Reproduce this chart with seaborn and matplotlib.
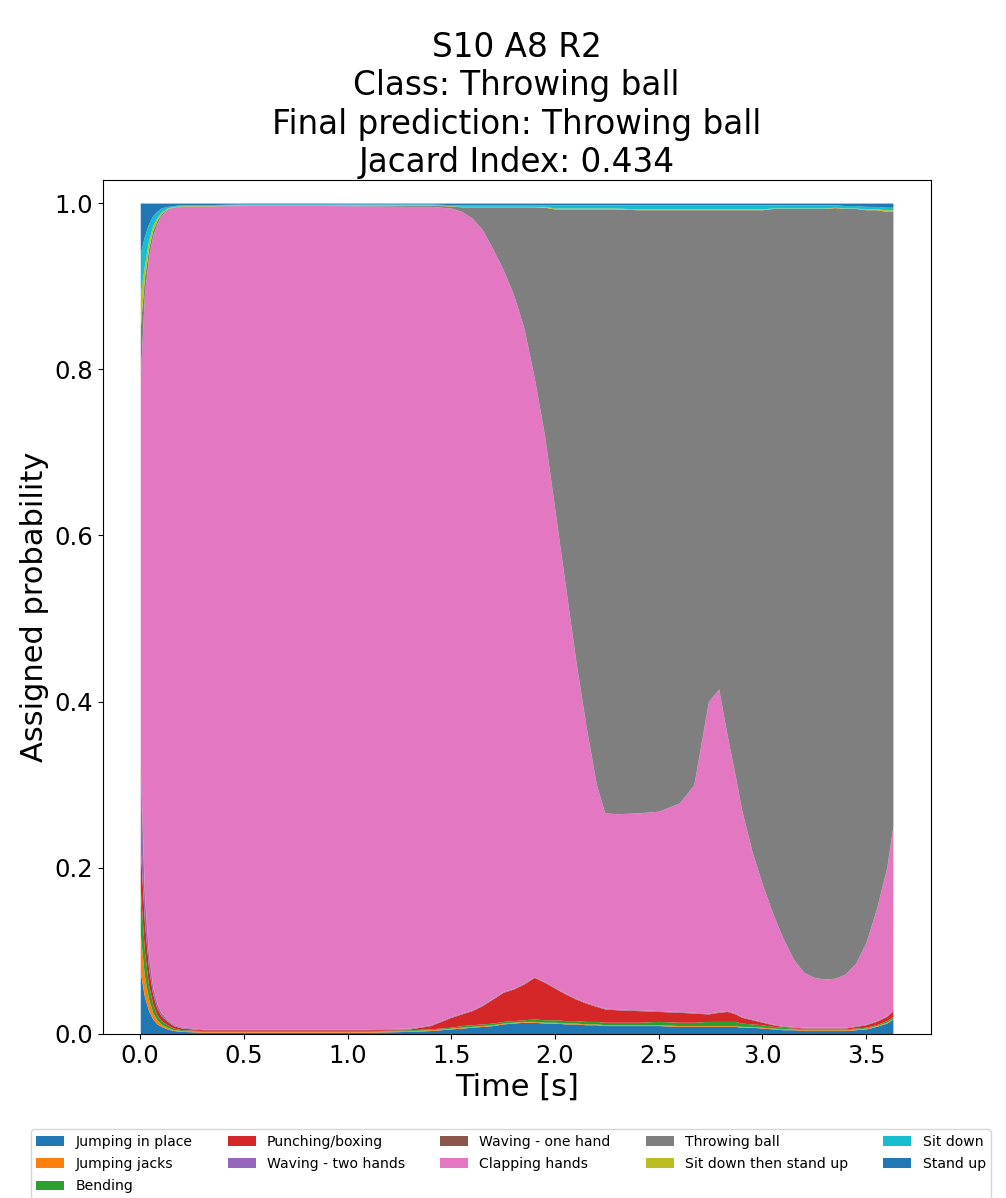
import numpy as np
import matplotlib
matplotlib.use("Agg")
import matplotlib.pyplot as plt
import seaborn as sns

sns.set_style("ticks")
plt.rcParams["font.family"] = ["DejaVu Sans"]
plt.rcParams.update({
    "text.color": "black",
    "axes.labelcolor": "black",
    "axes.edgecolor": "black",
    "xtick.color": "black",
    "ytick.color": "black",
})

# time axis [s]
time_s = [0.00, 0.02, 0.04, 0.06, 0.08, 0.10, 0.13, 0.16, 0.20, 0.30,
          0.50, 0.70, 0.90, 1.10, 1.30, 1.40, 1.50, 1.55, 1.60, 1.65,
          1.70, 1.75, 1.80, 1.85, 1.90, 1.95, 2.00, 2.05, 2.10, 2.15,
          2.20, 2.24, 2.30, 2.40, 2.50, 2.60, 2.67, 2.74, 2.79, 2.83,
          2.87, 2.90, 2.95, 3.00, 3.05, 3.10, 3.15, 3.20, 3.25, 3.30,
          3.35, 3.40, 3.45, 3.50, 3.55, 3.60, 3.63]

class_names = ["Jumping in place", "Jumping jacks", "Bending", "Punching/boxing",
               "Waving - two hands", "Waving - one hand", "Clapping hands",
               "Throwing ball", "Sit down then stand up", "Sit down", "Stand up"]

jumping_in_place = [0.075, 0.045, 0.028, 0.018, 0.012, 0.009, 0.006, 0.004, 0.003, 0.002,
                    0.002, 0.002, 0.002, 0.002, 0.003, 0.004, 0.006, 0.007, 0.008, 0.009,
                    0.010, 0.012, 0.013, 0.014, 0.014, 0.013, 0.013, 0.012, 0.012, 0.011,
                    0.011, 0.010, 0.010, 0.010, 0.010, 0.009, 0.009, 0.009, 0.009, 0.009,
                    0.009, 0.008, 0.008, 0.007, 0.006, 0.005, 0.005, 0.004, 0.004, 0.004,
                    0.004, 0.004, 0.005, 0.006, 0.009, 0.013, 0.018]
jumping_jacks = [0.045, 0.025, 0.014, 0.008, 0.005, 0.003, 0.002, 0.001, 0.001, 0.001,
                 0.001, 0.001, 0.001, 0.001, 0.001, 0.001, 0.001, 0.001, 0.001, 0.001,
                 0.001, 0.001, 0.001, 0.001, 0.001, 0.001, 0.001, 0.001, 0.001, 0.001,
                 0.001, 0.001, 0.001, 0.001, 0.001, 0.001, 0.001, 0.001, 0.001, 0.001,
                 0.001, 0.001, 0.001, 0.001, 0.001, 0.001, 0.001, 0.001, 0.001, 0.001,
                 0.001, 0.001, 0.001, 0.001, 0.001, 0.001, 0.001]
bending = [0.055, 0.030, 0.017, 0.010, 0.006, 0.004, 0.003, 0.002, 0.001, 0.001,
           0.001, 0.001, 0.001, 0.001, 0.001, 0.001, 0.001, 0.002, 0.002, 0.002,
           0.002, 0.002, 0.002, 0.002, 0.003, 0.003, 0.003, 0.003, 0.003, 0.003,
           0.003, 0.003, 0.003, 0.003, 0.004, 0.004, 0.004, 0.005, 0.005, 0.005,
           0.005, 0.004, 0.003, 0.003, 0.002, 0.002, 0.001, 0.001, 0.001, 0.001,
           0.001, 0.001, 0.001, 0.001, 0.001, 0.002, 0.002]
punching = [0.050, 0.035, 0.020, 0.012, 0.008, 0.006, 0.004, 0.003, 0.002, 0.001,
            0.001, 0.001, 0.001, 0.001, 0.001, 0.004, 0.012, 0.014, 0.017, 0.022,
            0.029, 0.035, 0.038, 0.043, 0.050, 0.045, 0.038, 0.032, 0.026, 0.022,
            0.018, 0.016, 0.015, 0.014, 0.012, 0.012, 0.011, 0.009, 0.011, 0.012,
            0.009, 0.007, 0.005, 0.003, 0.002, 0.001, 0.001, 0.001, 0.001, 0.001,
            0.001, 0.001, 0.002, 0.003, 0.004, 0.005, 0.007]
waving_two = [0.080, 0.030, 0.015, 0.008, 0.005, 0.003, 0.002, 0.001, 0.001, 0.0005,
              0.0005, 0.0005, 0.0005, 0.0005, 0.0005, 0.0005, 0.0005, 0.0005, 0.0005, 0.0005,
              0.0005, 0.0005, 0.0005, 0.0005, 0.0005, 0.0005, 0.0005, 0.0005, 0.0005, 0.0005,
              0.0005, 0.0005, 0.0005, 0.0005, 0.0005, 0.0005, 0.0005, 0.0005, 0.0005, 0.0005,
              0.0005, 0.0005, 0.0005, 0.0005, 0.0005, 0.0005, 0.0005, 0.0005, 0.0005, 0.0005,
              0.0005, 0.0005, 0.0005, 0.0005, 0.0005, 0.0005, 0.0005]
waving_one = [0.020, 0.005, 0.003, 0.002, 0.001, 0.001, 0.0005, 0.0005, 0.0005, 0.0005,
              0.0005, 0.0005, 0.0005, 0.0005, 0.0005, 0.0005, 0.0005, 0.0005, 0.0005, 0.0005,
              0.0005, 0.0005, 0.0005, 0.0005, 0.0005, 0.0005, 0.0005, 0.0005, 0.0005, 0.0005,
              0.0005, 0.0005, 0.0005, 0.0005, 0.0005, 0.0005, 0.0005, 0.0005, 0.0005, 0.0005,
              0.0005, 0.0005, 0.0005, 0.0005, 0.0005, 0.0005, 0.0005, 0.0005, 0.0005, 0.0005,
              0.0005, 0.0005, 0.0005, 0.0005, 0.0005, 0.0005, 0.0005]
clapping = [0.465, 0.720, 0.838, 0.902, 0.938, 0.959, 0.9745, 0.9835, 0.9875, 0.990,
            0.991, 0.991, 0.991, 0.9905, 0.989, 0.985, 0.973, 0.965, 0.953, 0.933,
            0.902, 0.869, 0.835, 0.789, 0.721, 0.657, 0.574, 0.491, 0.407, 0.332,
            0.266, 0.235, 0.235, 0.237, 0.240, 0.251, 0.274, 0.375, 0.388, 0.332,
            0.285, 0.249, 0.202, 0.165, 0.133, 0.105, 0.081, 0.066, 0.060, 0.058,
            0.059, 0.064, 0.075, 0.098, 0.134, 0.178, 0.221]
throwing = [0.060, 0.020, 0.010, 0.007, 0.004, 0.002, 0.001, 0.0005, 0.0005, 0.0005,
            0.0005, 0.0005, 0.0005, 0.001, 0.0015, 0.0015, 0.0025, 0.0055, 0.0135, 0.0275,
            0.0505, 0.0755, 0.1055, 0.1455, 0.2055, 0.275, 0.363, 0.453, 0.543, 0.623,
            0.693, 0.727, 0.728, 0.726, 0.724, 0.714, 0.692, 0.592, 0.577, 0.632,
            0.682, 0.722, 0.772, 0.812, 0.8485, 0.8785, 0.9035, 0.9195, 0.9255, 0.9275,
            0.9275, 0.9215, 0.9085, 0.882, 0.842, 0.790, 0.740]
sit_down_stand_up = [0.040, 0.015, 0.010, 0.006, 0.003, 0.002, 0.001, 0.0005, 0.0005, 0.0005,
                     0.0005, 0.0005, 0.0005, 0.0005, 0.0005, 0.0005, 0.0005, 0.0005, 0.0005, 0.0005,
                     0.0005, 0.0005, 0.0005, 0.0005, 0.0005, 0.001, 0.001, 0.001, 0.001, 0.001,
                     0.001, 0.001, 0.001, 0.001, 0.001, 0.001, 0.001, 0.001, 0.001, 0.001,
                     0.001, 0.001, 0.001, 0.001, 0.0005, 0.0005, 0.0005, 0.0005, 0.0005, 0.0005,
                     0.0005, 0.0005, 0.0005, 0.001, 0.001, 0.002, 0.002]
sit_down = [0.050, 0.035, 0.020, 0.012, 0.008, 0.005, 0.002, 0.001, 0.001, 0.001,
            0.001, 0.001, 0.001, 0.001, 0.001, 0.001, 0.001, 0.002, 0.002, 0.002,
            0.002, 0.002, 0.002, 0.002, 0.002, 0.002, 0.004, 0.004, 0.004, 0.004,
            0.004, 0.004, 0.004, 0.005, 0.005, 0.005, 0.005, 0.005, 0.005, 0.005,
            0.005, 0.005, 0.005, 0.005, 0.004, 0.004, 0.004, 0.004, 0.004, 0.004,
            0.003, 0.003, 0.003, 0.003, 0.003, 0.003, 0.003]
stand_up = [0.060, 0.040, 0.025, 0.015, 0.010, 0.006, 0.004, 0.003, 0.002, 0.002,
            0.001, 0.001, 0.001, 0.001, 0.001, 0.001, 0.002, 0.002, 0.002, 0.002,
            0.002, 0.002, 0.002, 0.002, 0.002, 0.002, 0.002, 0.002, 0.002, 0.002,
            0.002, 0.002, 0.002, 0.002, 0.002, 0.002, 0.002, 0.002, 0.002, 0.002,
            0.002, 0.002, 0.002, 0.002, 0.002, 0.002, 0.002, 0.002, 0.002, 0.002,
            0.002, 0.003, 0.003, 0.004, 0.004, 0.005, 0.005]

probs = [jumping_in_place, jumping_jacks, bending, punching, waving_two, waving_one,
         clapping, throwing, sit_down_stand_up, sit_down, stand_up]

# tab10 cycle, the 11th class wraps around to blue again
palette = sns.color_palette("tab10", 10)
colors = [palette[i % 10] for i in range(len(class_names))]

fig = plt.figure(figsize=(10.06, 11.98), dpi=100)
ax = fig.add_axes([0.102, 0.137, 0.823, 0.7127])
ax.stackplot(time_s, *probs, labels=class_names, colors=colors, linewidth=0)

ax.set_title("S10 A8 R2\nClass: Throwing ball\nFinal prediction: Throwing ball\nJacard Index: 0.434",
             fontsize=23.5)
ax.set_xlabel("Time [s]", fontsize=22)
ax.set_ylabel("Assigned probability", fontsize=22)
ax.tick_params(labelsize=17.5)
ax.set_xticks(np.arange(0, 3.51, 0.5))
ax.set_ylim(0, 1.0277)

fig.legend(loc="upper center", bbox_to_anchor=(0.508, 0.0635), ncol=5, fontsize=10.1,
           columnspacing=2.5, labelspacing=0.6)

fig.savefig("out.png", dpi=100)
